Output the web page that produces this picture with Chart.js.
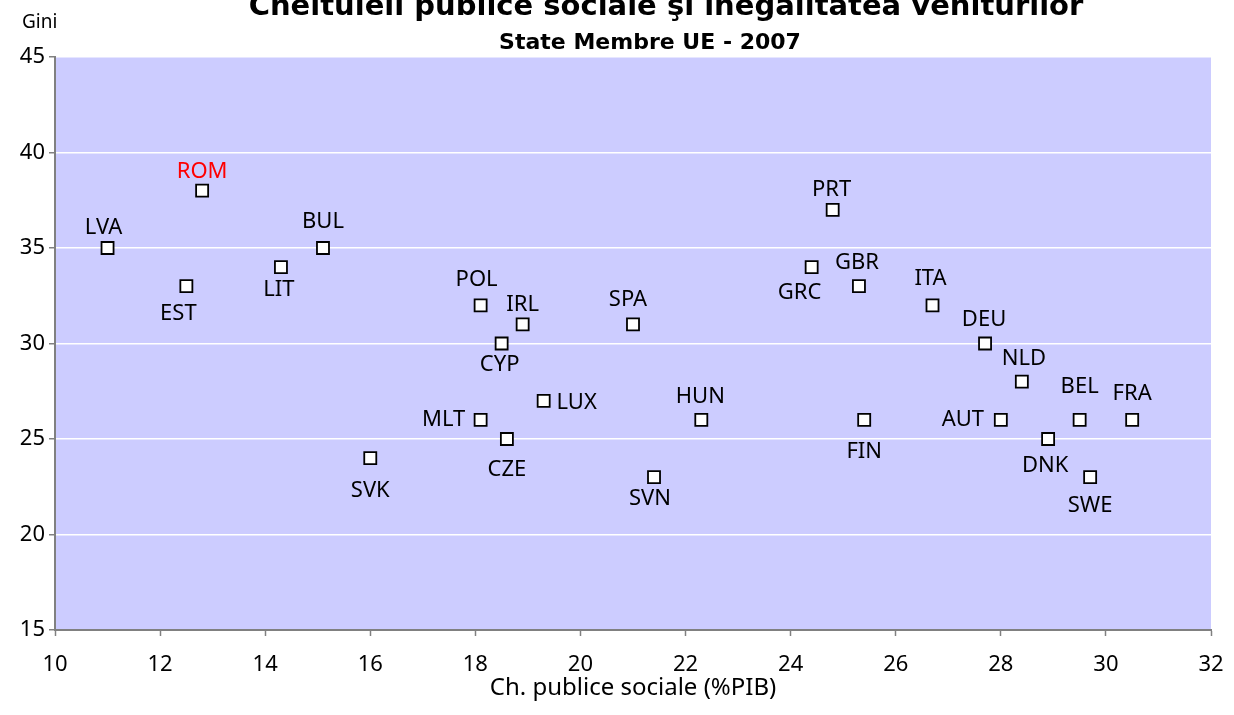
<!DOCTYPE html>
<html>
<head>
<meta charset="utf-8">
<title>Cheltuieli publice sociale şi inegalitatea veniturilor</title>
<script src="https://cdn.jsdelivr.net/npm/chart.js@4/dist/chart.umd.min.js"></script>
<style>
  html, body { margin: 0; padding: 0; background: #ffffff; }
  #wrap { width: 1234px; height: 715px; position: relative; }
</style>
</head>
<body>
<div id="wrap"><canvas id="giniChart" width="1234" height="715"></canvas></div>
<script>
// Data (EU member states, 2007)
const countries = ['LVA', 'ROM', 'EST', 'LIT', 'BUL', 'SVK', 'POL', 'MLT', 'CYP', 'CZE', 'IRL', 'LUX',
                   'SPA', 'SVN', 'HUN', 'GRC', 'PRT', 'GBR', 'FIN', 'ITA', 'DEU', 'AUT', 'NLD', 'DNK',
                   'BEL', 'SWE', 'FRA'];
const socialSpending = [11.0, 12.8, 12.5, 14.3, 15.1, 16.0, 18.1, 18.1, 18.5, 18.6, 18.9, 19.3,
                        21.0, 21.4, 22.3, 24.4, 24.8, 25.3, 25.4, 26.7, 27.7, 28.0, 28.4, 28.9,
                        29.5, 29.7, 30.5];
const giniIndex = [35, 38, 33, 34, 35, 24, 32, 26, 30, 25, 31, 27,
                   31, 23, 26, 34, 37, 33, 26, 32, 30, 26, 28, 25,
                   26, 23, 26];

// Axis ranges: [min, max, step]
const xAxisRange = [10, 32, 2];
const yAxisRange = [15, 45, 5];

// Text
const chartTitle = 'Cheltuieli publice sociale şi inegalitatea veniturilor';
const chartSubtitle = 'State Membre UE - 2007';
const xAxisTitle = 'Ch. publice sociale (%PIB)';
const yAxisTitle = 'Gini';

// Label placement relative to each marker (pixels), same order as countries
const labelShift = [[-4, -20], [0, -19], [-8, 28], [-2, 23], [0, -26], [0, 33], [-4, -26], [-37, 0],
                    [-2, 21], [0, 31], [0, -20], [33, 2], [-5, -25], [-4, 22], [-1, -23], [-12, 26],
                    [-1, -20], [-2, -23], [0, 32], [-2, -27], [-1, -24], [-38, 0], [2, -23], [-3, 27],
                    [0, -33], [0, 29], [0, -26]];
const highlight = 'ROM';

const FONT = '"Noto Sans", "DejaVu Sans", sans-serif';
const HEAD_FONT = '"DejaVu Sans", "Noto Sans", sans-serif';

// Lavender plot area like the original spreadsheet chart
const plotBackground = {
    id: 'plotBackground',
    beforeDraw(chart) {
        const { ctx, chartArea: a } = chart;
        ctx.save();
        ctx.fillStyle = '#CCCCFF';
        ctx.fillRect(a.left, a.top, a.right - a.left, a.bottom - a.top);
        ctx.restore();
    }
};

// Country codes next to the markers
const pointLabels = {
    id: 'pointLabels',
    afterDatasetsDraw(chart) {
        const ctx = chart.ctx;
        const meta = chart.getDatasetMeta(0);
        ctx.save();
        ctx.font = '22px ' + FONT;
        ctx.textAlign = 'center';
        ctx.textBaseline = 'middle';
        meta.data.forEach((pt, i) => {
            const [dx, dy] = labelShift[i];
            ctx.fillStyle = countries[i] === highlight ? '#FF0000' : '#000000';
            ctx.fillText(countries[i], pt.x + dx, pt.y + dy);
        });
        ctx.restore();
    }
};

// Title, subtitle and the "Gini" caption above the y axis
const headerText = {
    id: 'headerText',
    afterDraw(chart) {
        const ctx = chart.ctx;
        ctx.save();
        ctx.fillStyle = '#000000';
        ctx.textAlign = 'center';
        ctx.textBaseline = 'alphabetic';
        ctx.font = 'bold 29px ' + HEAD_FONT;
        ctx.fillText(chartTitle, 666, 15);
        ctx.font = 'bold 22px ' + HEAD_FONT;
        ctx.fillText(chartSubtitle, 650, 49);
        ctx.textAlign = 'left';
        ctx.font = '19px ' + FONT;
        ctx.fillText(yAxisTitle, 22, 28);
        ctx.restore();
    }
};

const ctx = document.getElementById('giniChart').getContext('2d');

const giniChart = new Chart(ctx, {
    type: 'scatter',
    data: {
        datasets: [{
            label: 'Gini',
            data: socialSpending.map((x, i) => ({ x: x, y: giniIndex[i] })),
            pointStyle: 'rect',
            pointRadius: 8.5,
            pointHoverRadius: 8.5,
            pointBackgroundColor: '#FFFFFF',
            pointBorderColor: '#000000',
            pointBorderWidth: 1.8
        }]
    },
    options: {
        responsive: false,
        animation: false,
        layout: {
            padding: { top: 57, right: 23, left: 0, bottom: 0 }
        },
        plugins: {
            legend: { display: false },
            title: { display: false },
            tooltip: { enabled: false }
        },
        scales: {
            x: {
                type: 'linear',
                min: xAxisRange[0],
                max: xAxisRange[1],
                afterFit(scale) {
                    scale.height = 85;
                    // keep the plot edges where the original has them
                    scale.paddingLeft = 0;
                    scale.paddingRight = 0;
                },
                ticks: {
                    stepSize: xAxisRange[2],
                    color: '#000000',
                    padding: 16,
                    font: { family: FONT, size: 22 }
                },
                grid: {
                    drawOnChartArea: false,
                    tickColor: '#808080',
                    tickLength: 6,
                    tickWidth: 1.5
                },
                border: { color: '#808080', width: 2 },
                title: {
                    display: true,
                    text: xAxisTitle,
                    color: '#000000',
                    font: { family: FONT, size: 24 },
                    padding: { top: 0, bottom: 12 }
                }
            },
            y: {
                type: 'linear',
                min: yAxisRange[0],
                max: yAxisRange[1],
                afterFit(scale) { scale.width = 55; },
                ticks: {
                    stepSize: yAxisRange[2],
                    color: '#000000',
                    padding: 4,
                    font: { family: FONT, size: 22 }
                },
                grid: {
                    color: '#FFFFFF',
                    lineWidth: 1.5,
                    tickColor: '#808080',
                    tickLength: 6,
                    tickWidth: 1.5
                },
                border: { color: '#808080', width: 2 }
            }
        }
    },
    plugins: [plotBackground, pointLabels, headerText]
});
</script>
</body>
</html>
